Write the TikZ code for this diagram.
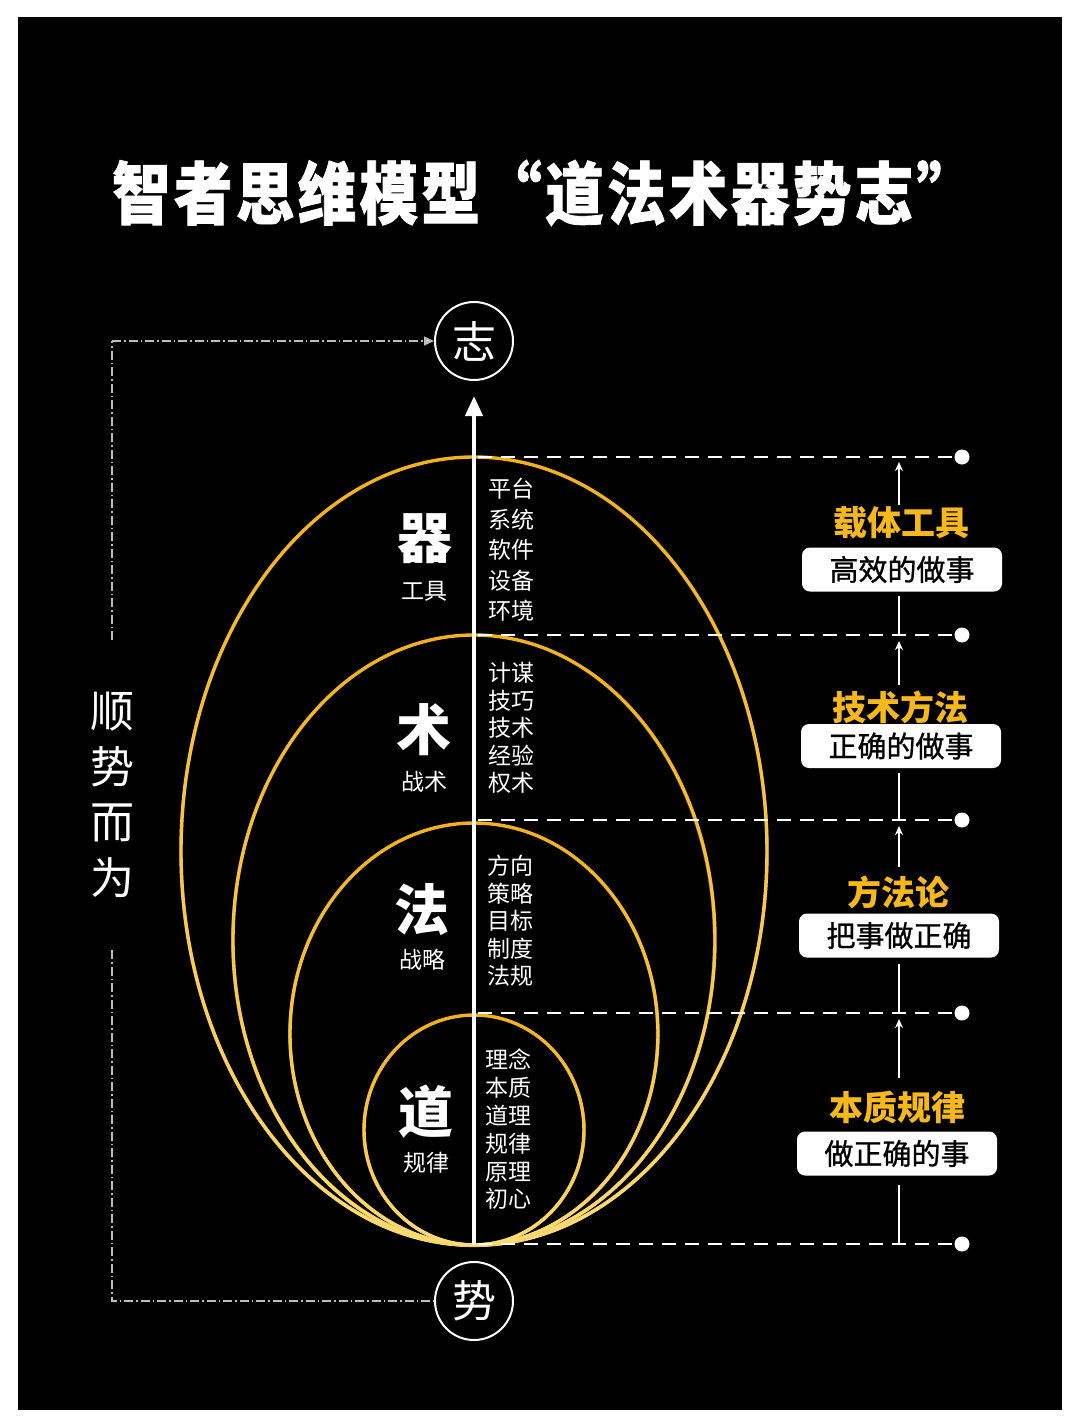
\documentclass[tikz,border=0pt]{standalone}
\usepackage{fontspec}
\setmainfont{Noto Sans CJK SC}
\newfontfamily\cjk{Noto Sans CJK SC}
\newfontfamily\cjkm[FakeBold=1]{Noto Sans CJK SC}
\newfontfamily\titlefont[FakeStretch=0.86,LetterSpace=5,FakeBold=1.2]{Noto Sans CJK SC}
\usetikzlibrary{arrows.meta,fadings}
\definecolor{gold}{HTML}{F3B11C}
\definecolor{goldlight}{HTML}{FBDC78}
\definecolor{lab}{HTML}{F6B81A}
\definecolor{dd}{HTML}{BDBDBD}
\tikzset{
  ring/.style={draw=gold, line width=3.4pt},
  ringlight/.style={draw=goldlight, line width=3.4pt, path fading=north},
  dashline/.style={draw=white, line width=2.6pt, dash pattern=on 14pt off 9pt},
  dotnode/.style={circle, fill=white, inner sep=0pt, minimum size=15pt},
  rline/.style={draw=white, line width=1.5pt},
  rarrow/.style={draw=white, line width=1.5pt, -{Stealth[length=9pt,width=8pt]}},
  ddline/.style={draw=dd, line width=1.3pt, dash pattern=on 9pt off 3pt on 1.5pt off 3pt},
  labnode/.style={text=lab, inner sep=0pt, font=\cjk\bfseries\fontsize{34}{34}\selectfont},
  boxnode/.style={fill=white, rounded corners=8pt, minimum width=200pt, minimum height=44pt, inner sep=0pt, text=black, font=\cjkm\fontsize{29}{29}\selectfont},
  circnode/.style={circle, draw=white, line width=2pt, minimum size=78pt, inner sep=0pt, text=white, font=\cjk\fontsize{44}{44}\selectfont},
  bigch/.style={text=white, inner sep=0pt, font=\cjk\bfseries\fontsize{55}{55}\selectfont},
  smallch/.style={text=white, inner sep=0pt, font=\cjk\fontsize{23}{23}\selectfont},
  listnode/.style={text=white, inner sep=0pt, align=center, font=\cjk\fontsize{23}{#1}\selectfont},
}
\begin{document}
\begin{tikzpicture}[x=1pt, y=-1pt]
\useasboundingbox (0,0) rectangle (1080,1428);
\fill[white] (0,0) rectangle (1080,1428);
\fill[black] (18,17) rectangle (1062,1410);

% title
\node[text=white, inner sep=0pt, anchor=west, font=\titlefont\bfseries\fontsize{68}{68}\selectfont] (title) at (112,193) {智者思维模型“道法术器势志”};

% ellipses
\foreach \cy/\rx/\ry in {851/293/394, 940/241/305, 1034/184/211, 1130/110/115}{
  \draw[ring] (474,\cy) ellipse [x radius=\rx, y radius=\ry];
  \draw[ringlight] (474,\cy) ellipse [x radius=\rx, y radius=\ry];
}

% circles
\node[circnode] (zhi) at (474,341) {志};
\node[circnode] (shi) at (474,1301) {势};

% main axis
\coordinate (axbot) at (474,1245);
\coordinate (axtop) at (474,396);
\draw[white, line width=4.5pt, -{Triangle[length=20pt,width=17pt]}] (axbot) -- (axtop);

% dashed levels
\foreach \i/\y in {1/457,2/635,3/820,4/1013,5/1244}{
  \coordinate (s\i) at (478,\y);
  \coordinate (c\i) at (899,\y);
  \node[dotnode] (d\i) at (962,\y) {};
  \draw[dashline] (s\i) -- (d\i.center);
}

% right labels and boxes
\node[labnode] (L1) at (901,523) {载体工具};
\node[boxnode] (B1) at (902,569.5) {高效的做事};
\node[labnode] (L2) at (900,707) {技术方法};
\node[boxnode] (B2) at (901,746) {正确的做事};
\node[labnode] (L3) at (898,892) {方法论};
\node[boxnode] (B3) at (899,935.5) {把事做正确};
\node[labnode] (L4) at (897,1107) {本质规律};
\node[boxnode] (B4) at (897,1153.5) {做正确的事};

% right arrows
\coordinate (t1) at (899,505); \coordinate (h1) at (899,462);
\coordinate (t2) at (899,685); \coordinate (h2) at (899,641);
\coordinate (t3) at (899,867); \coordinate (h3) at (899,826);
\coordinate (t4) at (899,1078); \coordinate (h4) at (899,1019);
\foreach \i in {1,2,3,4}{ \draw[rarrow] (t\i) -- (h\i); }
\draw[rline, shorten <=4pt] (B1.south -| c2) -- (c2);
\draw[rline, shorten <=5pt] (B2.south -| c3) -- (c3);
\draw[rline, shorten <=6pt] (B3.south -| c4) -- (c4);
\draw[rline, shorten <=9pt] (B4.south -| c5) -- (c5);

% left big chars
\node[bigch] (qi) at (425,539) {器};
\node[smallch] (qis) at (424,591) {工具};
\node[bigch] (shu) at (424,730) {术};
\node[smallch] (shus) at (424,782) {战术};
\node[bigch] (fa) at (422,910) {法};
\node[smallch] (fas) at (422,960) {战略};
\node[bigch] (dao) at (426,1112) {道};
\node[smallch] (daos) at (426,1163) {规律};

% lists
\node[listnode=30.5] (lq) at (511,550) {平台\\系统\\软件\\设备\\环境};
\node[listnode=27.5] (ls) at (511,728) {计谋\\技巧\\技术\\经验\\权术};
\node[listnode=27.5] (lf) at (510,921) {方向\\策略\\目标\\制度\\法规};
\node[listnode=27.8] (ld) at (508,1129.5) {理念\\本质\\道理\\规律\\原理\\初心};

% left dash-dot loop
\node[text=white, inner sep=0pt, align=center, font=\cjk\fontsize{44}{55.5}\selectfont] (sswe) at (112,795) {顺\\势\\而\\为};
\coordinate (lt) at (112,341);
\coordinate (lm1) at (112,640);
\coordinate (lm2) at (112,950);
\coordinate (lb) at (112,1301);
\draw[ddline] (lm1) -- (lt);
\draw[ddline, -{Triangle[length=10pt,width=9pt]}] (lt) -- (zhi.west);
\draw[ddline] (lm2) -- (lb) -- (shi.west);
\end{tikzpicture}
\end{document}
